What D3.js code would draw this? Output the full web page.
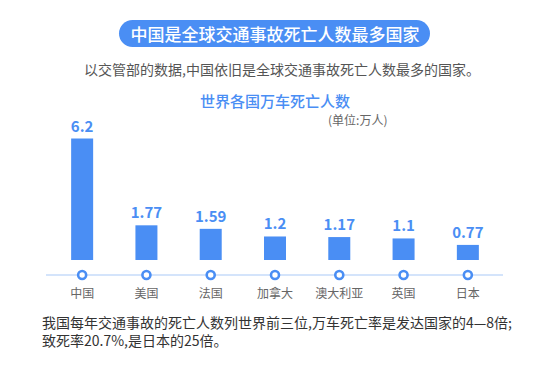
<!DOCTYPE html>
<html><head><meta charset="utf-8">
<script src="https://cdn.jsdelivr.net/npm/d3@7"></script>
<style>
html,body{margin:0;padding:0;background:#fff;}
svg{display:block;font-family:"Noto Sans CJK SC","Noto Sans",sans-serif;}
</style></head>
<body><svg id="c" width="550" height="367"></svg>
<script>
const categories = ["中国","美国","法国","加拿大","澳大利亚","英国","日本"];
const values = [6.2, 1.77, 1.59, 1.2, 1.17, 1.1, 0.77];
const valueLabels = ["6.2","1.77","1.59","1.2","1.17","1.1","0.77"];
const titleText = "中国是全球交通事故死亡人数最多国家";
const subtitleText = "以交管部的数据,中国依旧是全球交通事故死亡人数最多的国家。";
const chartTitle = "世界各国万车死亡人数";
const unitText = "(单位:万人)";
const footLines = ["我国每年交通事故的死亡人数列世界前三位,万车死亡率是发达国家的4—8倍;","致死率20.7%,是日本的25倍。"];

const blue = "#4a8ef4";
const svg = d3.select("#c");

// header pill
svg.append("rect").attr("x",119).attr("y",20).attr("width",311).attr("height",27).attr("rx",13.5).attr("fill",blue);
svg.append("text").attr("x",275).attr("y",33.5).attr("text-anchor","middle").attr("dominant-baseline","central")
  .attr("fill","#fff").attr("font-size",17).attr("font-weight",500).text(titleText);

svg.append("text").attr("x",84).attr("y",68.5).attr("dominant-baseline","central")
  .attr("fill","#555").attr("font-size",14).text(subtitleText);

svg.append("text").attr("x",275).attr("y",100.5).attr("text-anchor","middle").attr("dominant-baseline","central")
  .attr("fill",blue).attr("font-size",15).attr("font-weight",500).text(chartTitle);
svg.append("text").attr("x",328).attr("y",119).attr("dominant-baseline","central")
  .attr("fill","#666").attr("font-size",12).text(unitText);

const x = d3.scalePoint().domain(categories).range([50,500]).padding(0.5);
const y = d3.scaleLinear().domain([0,6.2]).range([260,138.5]);
const bw = 22;

svg.append("line").attr("x1",46).attr("x2",503).attr("y1",275).attr("y2",275)
  .attr("stroke","#a9c9f7").attr("stroke-width",1.2);

svg.selectAll("rect.bar").data(values).join("rect").attr("class","bar")
  .attr("x",(d,i)=>x(categories[i])-bw/2).attr("width",bw)
  .attr("y",d=>y(d)).attr("height",d=>y(0)-y(d)).attr("fill",blue);

svg.selectAll("text.val").data(values).join("text").attr("class","val")
  .attr("x",(d,i)=>x(categories[i])).attr("y",d=>y(d)-7)
  .attr("text-anchor","middle").attr("fill",blue).attr("font-size",15).attr("font-weight",700)
  .text((d,i)=>valueLabels[i]);

svg.selectAll("circle.dot").data(categories).join("circle").attr("class","dot")
  .attr("cx",d=>x(d)).attr("cy",275).attr("r",4).attr("fill","#fff")
  .attr("stroke",blue).attr("stroke-width",2.6);

svg.selectAll("text.cat").data(categories).join("text").attr("class","cat")
  .attr("x",d=>x(d)).attr("y",292.5).attr("text-anchor","middle").attr("dominant-baseline","central")
  .attr("fill","#666").attr("font-size",12).text(d=>d);

svg.selectAll("text.foot").data(footLines).join("text").attr("class","foot")
  .attr("x",42).attr("y",(d,i)=>321.5+i*18.5).attr("dominant-baseline","central")
  .attr("fill","#333").attr("font-size",14).text(d=>d);
</script></body></html>
